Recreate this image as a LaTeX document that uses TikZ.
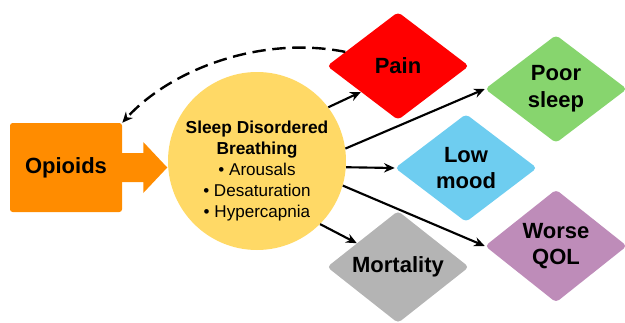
\documentclass[tikz,border=0pt]{standalone}
\usepackage{fontspec}
\setmainfont{Liberation Sans}
\usetikzlibrary{arrows.meta, shapes.geometric}

\definecolor{opioidorange}{RGB}{255,140,0}
\definecolor{sdbyellow}{RGB}{255,217,102}
\definecolor{painred}{RGB}{255,0,0}
\definecolor{sleepgreen}{RGB}{135,213,110}
\definecolor{moodblue}{RGB}{110,205,240}
\definecolor{qolpurple}{RGB}{190,140,185}
\definecolor{deathgray}{RGB}{180,180,180}

\begin{document}
\begin{tikzpicture}[x=0.75pt, y=-0.75pt,
    effect/.style={diamond, rounded corners=3pt, minimum width=106.5pt,
      minimum height=81pt, inner sep=0pt, align=center,
      font=\fontsize{16.5}{20}\selectfont\bfseries},
    link/.style={-{Stealth[length=8pt, width=7pt]}, line width=1.6pt}]
    % Page frame in pixels of the original
    \useasboundingbox (0,0) rectangle (625,322);

    % Cause
    \node[fill=opioidorange, rounded corners=2pt, minimum width=84pt,
      minimum height=66.75pt, font=\fontsize{16.5}{20}\selectfont\bfseries]
      (opi) at (66,167.5) {Opioids};
    % Block arrow into the circle
    \fill[opioidorange] ([shift={(-2,-14.5)}]opi.east) -- ++(23,0) -- ++(0,-11)
      -- ++(24,25.5) -- ++(-24,25.5) -- ++(0,-11) -- ++(-23,0) -- cycle;

    % Sleep disordered breathing
    \node[circle, fill=sdbyellow, minimum size=133.5pt, inner sep=0pt] (sdb) at (257,161) {};
    \node[align=center, font=\fontsize{12.8}{15.75}\selectfont] (sdbtext) at (257,171)
      {\fontsize{13}{15.75}\selectfont\bfseries Sleep Disordered\\
       \fontsize{13}{15.75}\selectfont\bfseries Breathing\\
       \textbullet{} Arousals\\ \textbullet{} Desaturation\\
       \textbullet{} Hypercapnia};

    % Consequences
    \node[effect, fill=painred] (pain) at (398,66) {Pain};
    \node[effect, fill=sleepgreen] (poor) at (556,89) {Poor\\sleep};
    \node[effect, fill=moodblue] (mood) at (466,168) {Low\\mood};
    \node[effect, fill=qolpurple] (qol) at (556,246) {Worse\\QOL};
    \node[effect, fill=deathgray, minimum height=78pt] (mort) at (398,267) {Mortality};

    % Arrows out of the circle
    \draw[link] (sdb.37) -- (pain.215);
    \draw[link] (sdb.8) -- (poor.west);
    \draw[link] (sdb.-4) -- (mood.west);
    \draw[link] (sdb.-16) -- (qol.west);
    \draw[link] (sdb.-45) -- (mort.150);

    % Pain feeds back to opioid use
    \draw[link, line width=1.8pt, dash pattern=on 10pt off 5pt]
      (pain.165) .. controls (260,35) and (170,70) .. (opi.north east);
\end{tikzpicture}
\end{document}
